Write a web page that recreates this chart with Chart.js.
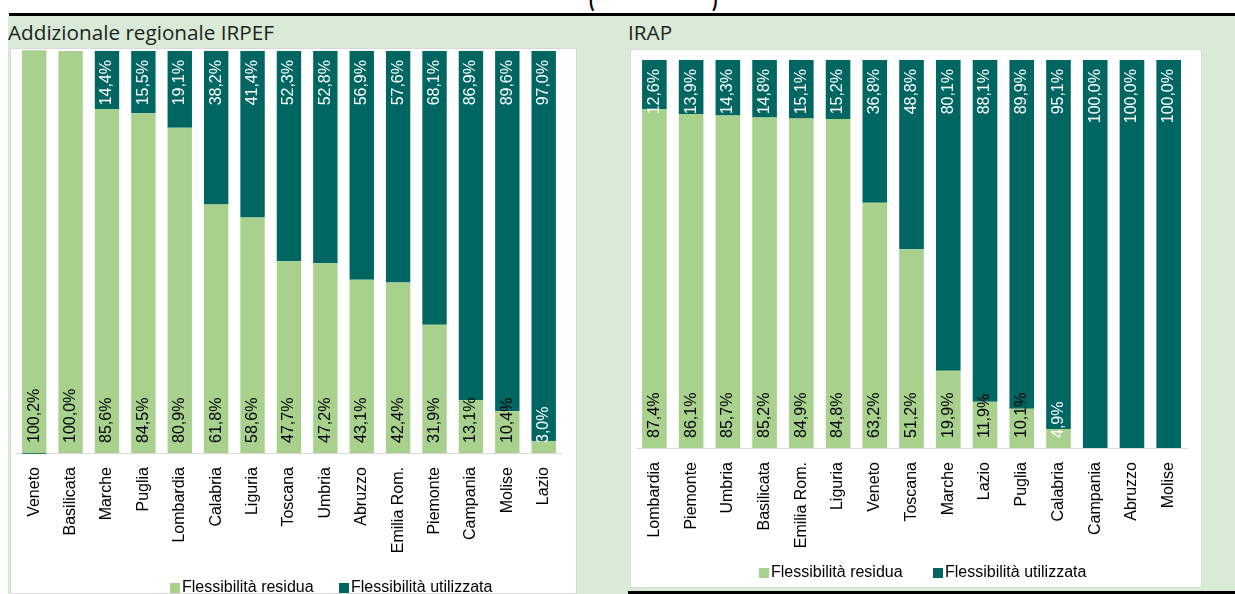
<!DOCTYPE html>
<html>
<head>
<meta charset="utf-8">
<script src="https://cdn.jsdelivr.net/npm/chart.js@4.4.1/dist/chart.umd.min.js"></script>
<style>
    body { margin: 0; width: 1235px; height: 594px; overflow: hidden; background: #fff; position: relative; font-family: "Liberation Sans", Arial, sans-serif; }
    .abs { position: absolute; }
    #topline { left: 9px; top: 13px; width: 1226px; height: 3px; background: #000; }
    #greenbg { left: 8px; top: 16px; width: 1227px; height: 578px; background: #d7ebd6; }
    #botline { left: 628px; top: 591px; width: 607px; height: 3px; background: #000; }
    .paren { top: -12px; font: bold 20px Lato, sans-serif; color: #000; }
    .title { top: 18px; font: 20.7px "Open Sans", sans-serif; color: #222; }
    .box { background: #fff; border: 1px solid #d9d9d9; box-sizing: border-box; }
    .legend { font-size: 16px; color: #000; white-space: nowrap; line-height: 16px; }
    .sq { display: inline-block; width: 10px; height: 10px; margin-right: 2px; vertical-align: -1px; }
</style>
</head>
<body>
<div class="abs" id="greenbg"></div>
<div class="abs" id="topline"></div>
<div class="abs" id="botline"></div>
<div class="abs paren" style="left:589px">(</div>
<div class="abs paren" style="left:712px">)</div>

<div class="abs title" style="left:8px">Addizionale regionale IRPEF</div>
<div class="abs title" style="left:628px">IRAP</div>

<div class="abs box" style="left:10px; top:48px; width:567px; height:546px;">
    <canvas id="irpef" width="567" height="546" style="position:absolute;left:-1px;top:-1px"></canvas>
</div>
<div class="abs box" style="left:630px; top:49px; width:572px; height:539px;">
    <canvas id="irap" width="572" height="539" style="position:absolute;left:-1px;top:-1px"></canvas>
</div>

<div class="abs legend" style="left:170px; top:579px;"><span class="sq" style="background:#a9d18e"></span>Flessibilità residua</div>
<div class="abs legend" style="left:339px; top:579px;"><span class="sq" style="background:#006661"></span>Flessibilità utilizzata</div>
<div class="abs legend" style="left:759px; top:564px;"><span class="sq" style="background:#a9d18e"></span>Flessibilità residua</div>
<div class="abs legend" style="left:933px; top:564px;"><span class="sq" style="background:#006661"></span>Flessibilità utilizzata</div>

<script>
    "use strict";

    // Addizionale regionale IRPEF
    var irpefRegions = ["Veneto", "Basilicata", "Marche", "Puglia", "Lombardia", "Calabria", "Liguria",
        "Toscana", "Umbria", "Abruzzo", "Emilia Rom.", "Piemonte", "Campania", "Molise", "Lazio"];
    var irpefResidua = [100.2, 100.0, 85.6, 84.5, 80.9, 61.8, 58.6, 47.7, 47.2, 43.1, 42.4, 31.9, 13.1, 10.4, 3.0];
    var irpefUtilizzata = [-0.2, 0, 14.4, 15.5, 19.1, 38.2, 41.4, 52.3, 52.8, 56.9, 57.6, 68.1, 86.9, 89.6, 97.0];

    // IRAP
    var irapRegions = ["Lombardia", "Piemonte", "Umbria", "Basilicata", "Emilia Rom.", "Liguria", "Veneto",
        "Toscana", "Marche", "Lazio", "Puglia", "Calabria", "Campania", "Abruzzo", "Molise"];
    var irapResidua = [87.4, 86.1, 85.7, 85.2, 84.9, 84.8, 63.2, 51.2, 19.9, 11.9, 10.1, 4.9, 0, 0, 0];
    var irapUtilizzata = [12.6, 13.9, 14.3, 14.8, 15.1, 15.2, 36.8, 48.8, 80.1, 88.1, 89.9, 95.1, 100, 100, 100];

    var GREEN = "#a9d18e";
    var TEAL = "#006661";
    var FONT = '"Liberation Sans", Arial, sans-serif';

    var barLabels = {
        id: "barLabels",
        afterDatasetsDraw: function (chart) {
            var ctx = chart.ctx;
            ctx.save();
            ctx.font = "16px " + FONT;
            ctx.textBaseline = "middle";
            chart.data.datasets.forEach(function (ds, i) {
                var meta = chart.getDatasetMeta(i);
                meta.data.forEach(function (bar, j) {
                    var v = ds.data[j];
                    if (v <= 0) return;
                    var txt = v.toFixed(1).replace(".", ",") + "%";
                    ctx.save();
                    if (i === 0) {
                        // residua: at the base of the bar
                        ctx.translate(bar.x, bar.base - 10);
                        ctx.textAlign = "left";
                        ctx.fillStyle = v < 6 ? "#fff" : "#000";
                    } else {
                        // utilizzata: at the top of the bar
                        ctx.translate(bar.x, bar.y + 9);
                        ctx.textAlign = "right";
                        ctx.fillStyle = "#fff";
                    }
                    ctx.rotate(-Math.PI / 2);
                    ctx.fillText(txt, 0, 0);
                    ctx.restore();
                });
            });
            ctx.restore();
        },
    };

    function makeChart(id, labels, residua, utilizzata, pad, axisHeight) {
        return new Chart(document.getElementById(id), {
            type: "bar",
            data: {
                labels: labels,
                datasets: [
                    {
                        label: "Flessibilità residua",
                        data: residua,
                        backgroundColor: GREEN,
                        borderWidth: 0,
                        clip: false,
                    },
                    {
                        label: "Flessibilità utilizzata",
                        data: utilizzata,
                        backgroundColor: TEAL,
                        borderWidth: 0,
                        clip: false,
                    },
                ],
            },
            options: {
                responsive: false,
                animation: false,
                events: [],
                layout: { padding: pad },
                datasets: { bar: { categoryPercentage: 1, barPercentage: 0.67 } },
                plugins: {
                    legend: { display: false },
                    tooltip: { enabled: false },
                },
                scales: {
                    x: {
                        stacked: true,
                        grid: { display: false, drawTicks: false },
                        border: { display: true, color: "#d9d9d9", width: 1 },
                        ticks: {
                            minRotation: 90,
                            maxRotation: 90,
                            autoSkip: false,
                            padding: 14,
                            color: "#000",
                            font: { family: FONT, size: 16 },
                        },
                        afterFit: function (scale) {
                            scale.height = axisHeight;
                        },
                    },
                    y: {
                        stacked: true,
                        display: false,
                        min: 0,
                        max: 100,
                    },
                },
            },
            plugins: [barLabels],
        });
    }

    makeChart("irpef", irpefRegions, irpefResidua, irpefUtilizzata,
        { left: 6, right: 3, top: 3, bottom: 0 }, 141);
    makeChart("irap", irapRegions, irapResidua, irapUtilizzata,
        { left: 6, right: 3, top: 11, bottom: 0 }, 140);
</script>
</body>
</html>
